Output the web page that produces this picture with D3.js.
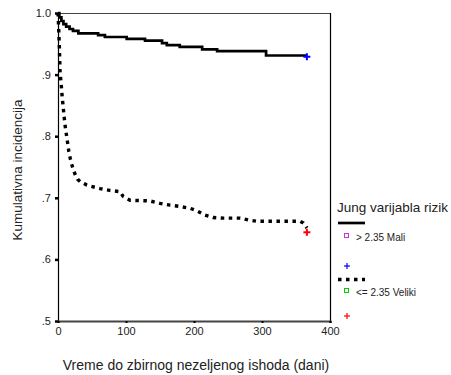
<!DOCTYPE html>
<html><head><meta charset="utf-8">
<script src="https://cdn.jsdelivr.net/npm/d3@7"></script>
<style>body{margin:0;background:#fff}svg{display:block;font-family:"Liberation Sans",Arial,sans-serif}</style>
</head><body>
<svg id="c" width="451" height="375"></svg>
<script>
// Group "> 2.35 Mali" (solid)
const maliDays = [0, 2, 5, 8, 12, 17, 22, 30, 59, 69, 101, 128, 153, 160, 179, 212, 234, 306, 366];
const maliVals = [1.0, 0.993, 0.987, 0.982, 0.978, 0.974, 0.971, 0.967, 0.964, 0.961, 0.958, 0.955, 0.951, 0.948, 0.945, 0.941, 0.938, 0.931, 0.931];
// Group "<= 2.35 Veliki" (dotted)
const velikiDays = [0, 1, 2, 3, 4, 5, 6, 8, 10, 12, 14, 16, 18, 20, 23, 26, 29, 33, 42, 47, 62, 76, 91, 96, 106, 135, 150, 165, 179, 194, 204, 216, 228, 243, 268, 280, 292, 356, 361, 363, 366];
const velikiVals = [1.0, 0.975, 0.945, 0.905, 0.892, 0.880, 0.866, 0.843, 0.821, 0.805, 0.790, 0.775, 0.764, 0.755, 0.744, 0.736, 0.730, 0.726, 0.721, 0.719, 0.715, 0.712, 0.710, 0.702, 0.696, 0.695, 0.691, 0.688, 0.686, 0.683, 0.679, 0.672, 0.668, 0.667, 0.667, 0.664, 0.662, 0.662, 0.659, 0.656, 0.651];
const censorDays = [366, 366];
const censorVals = [0.929, 0.644];
const xTicks = [0, 100, 200, 300, 400];
const yTicks = [0.5, 0.6, 0.7, 0.8, 0.9, 1.0];
const yTickLabels = [".5", ".6", ".7", ".8", ".9", "1.0"];
const legendTitle = "Jung varijabla rizik";
const legendLabels = ["> 2.35 Mali", "<= 2.35 Veliki"];

const svg = d3.select("#c");
const x = d3.scaleLinear().domain([0, 400]).range([58, 330]);
const y = d3.scaleLinear().domain([0.5, 1.0]).range([321, 13]);

// frame
svg.append("line").attr("x1", 58).attr("x2", 330).attr("y1", 13.5).attr("y2", 13.5).attr("stroke", "#444").attr("stroke-width", 1);
svg.append("line").attr("x1", 330.5).attr("x2", 330.5).attr("y1", 13).attr("y2", 321).attr("stroke", "#000").attr("stroke-width", 1.2);

// axes
const yAxis = d3.axisLeft(y).tickValues(yTicks).tickFormat((d, i) => yTickLabels[i]).tickSize(3).tickPadding(4);
const gy = svg.append("g").attr("transform", "translate(58,0)").call(yAxis);
gy.select(".domain").attr("stroke", "#000").attr("stroke-width", 1.2);
gy.selectAll(".tick line").attr("stroke", "#000").attr("stroke-width", 2.5);
gy.selectAll("text").attr("font-size", 11).attr("fill", "#222").attr("font-family", "Liberation Sans, Arial");

const xAxis = d3.axisBottom(x).tickValues(xTicks).tickFormat(d3.format("d")).tickSize(2).tickPadding(4);
const gx = svg.append("g").attr("transform", "translate(0,321)").call(xAxis);
gx.select(".domain").attr("stroke", "#444").attr("stroke-width", 2.2);
gx.selectAll(".tick line").attr("stroke", "#000").attr("stroke-width", 2);
gx.selectAll("text").attr("font-size", 11).attr("fill", "#222").attr("font-family", "Liberation Sans, Arial");

// titles
svg.append("text").attr("transform", "translate(22,170) rotate(-90)").attr("text-anchor", "middle")
  .attr("font-size", 13.5).attr("fill", "#222").text("Kumulativna incidencija");
svg.append("text").attr("x", 196).attr("y", 370).attr("text-anchor", "middle")
  .attr("font-size", 14).attr("fill", "#222").text("Vreme do zbirnog nezeljenog ishoda (dani)");

// curves
const line = d3.line().x(d => x(d[0])).y(d => y(d[1])).curve(d3.curveLinear);
const mali = maliDays.map((d, i) => [d, maliVals[i]]);
const veliki = velikiDays.map((d, i) => [d, velikiVals[i]]);
const stepLine = d3.line().x(d => x(d[0])).y(d => y(d[1])).curve(d3.curveStepAfter);
svg.append("path").attr("d", stepLine(mali)).attr("fill", "none").attr("stroke", "#000").attr("stroke-width", 2.7);
svg.append("path").attr("d", line(veliki)).attr("fill", "none").attr("stroke", "#000").attr("stroke-width", 3.4)
  .attr("stroke-dasharray", "3.5,4.5");

// censor marks
const censorColors = ["#0000ff", "#ff0000"];
censorDays.forEach((d, i) => {
  const cx = x(d), cy = y(censorVals[i]);
  const g = svg.append("g").attr("stroke", censorColors[i]).attr("stroke-width", 2);
  g.append("line").attr("x1", cx - 3.5).attr("x2", cx + 3.5).attr("y1", cy).attr("y2", cy);
  g.append("line").attr("x1", cx).attr("x2", cx).attr("y1", cy - 3.5).attr("y2", cy + 3.5);
});

// legend
const lg = svg.append("g");
lg.append("text").attr("x", 337).attr("y", 212).attr("font-size", 13.5).attr("fill", "#222").text(legendTitle);
const lgStyles = [
  {ly: 223, dash: null, w: 2.7, sq: "#cc33cc", ty: 237, py: 266},
  {ly: 279.5, dash: "3.5,4.5", w: 3.4, sq: "#00cc00", ty: 292, py: 316}
];
lgStyles.forEach((s, i) => {
  const l = lg.append("line").attr("x1", 338).attr("x2", 365).attr("y1", s.ly).attr("y2", s.ly)
    .attr("stroke", "#000").attr("stroke-width", s.w);
  if (s.dash) l.attr("stroke-dasharray", s.dash);
  lg.append("rect").attr("x", 344.5).attr("y", s.ty - 3.5).attr("width", 4).attr("height", 4)
    .attr("fill", "none").attr("stroke", s.sq).attr("stroke-width", 1);
  lg.append("text").attr("x", 356).attr("y", s.ty + 3.5).attr("font-size", 10).attr("fill", "#222").text(legendLabels[i]);
  const pg = lg.append("g").attr("stroke", censorColors[i]).attr("stroke-width", 1.2);
  pg.append("line").attr("x1", 344).attr("x2", 350).attr("y1", s.py).attr("y2", s.py);
  pg.append("line").attr("x1", 347).attr("x2", 347).attr("y1", s.py - 3).attr("y2", s.py + 3);
});
</script>
</body></html>
